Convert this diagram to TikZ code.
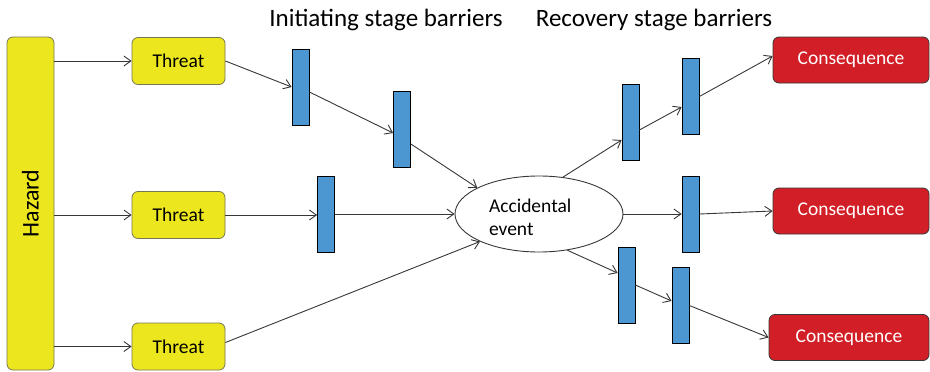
\documentclass[tikz,border=0pt]{standalone}
\usepackage{fontspec}
\setmainfont{Carlito}
\usetikzlibrary{arrows.meta,calc,shapes.geometric}
\definecolor{hyellow}{RGB}{236,230,30}
\definecolor{bblue}{RGB}{76,150,210}
\definecolor{cred}{RGB}{210,30,38}
\definecolor{lgray}{RGB}{55,55,55}
\definecolor{ybord}{RGB}{120,120,80}
\begin{document}
\begin{tikzpicture}[x=1pt,y=-1pt,
  txt/.style={font=\fontsize{19.5}{23}\selectfont},
  yelbox/.style={txt, draw=ybord, fill=hyellow, rounded corners=6pt, line width=0.8pt, inner sep=0pt},
  threatbox/.style={yelbox, minimum width=93pt, minimum height=47pt},
  hazbox/.style={yelbox, minimum width=47pt, minimum height=333pt, font=\fontsize{24}{28}\selectfont},
  barrier/.style={draw=black, fill=bblue, minimum width=17pt, minimum height=76pt, inner sep=0pt, line width=0.8pt},
  conbox/.style={txt, draw=lgray, fill=cred, text=white, rounded corners=6pt, line width=0.8pt, minimum width=156pt, minimum height=46pt, inner sep=0pt},
  evnode/.style={txt, ellipse, draw=lgray, line width=0.9pt, minimum width=168pt, minimum height=76pt, inner sep=0pt, text width=100pt, align=left},
  title/.style={font=\fontsize{25}{30}\selectfont, anchor=base},
  conn/.style={draw=lgray, line width=0.9pt, -{Straight Barb[length=7pt,width=10pt]}}
]
\useasboundingbox (0,0) rectangle (930,372);

\node[hazbox] (haz) at (30.5,203.5) {\rotatebox{90}{Hazard}};

\node[threatbox] (t1) at (178.5,61) {Threat};
\node[threatbox] (t2) at (178.5,215) {Threat};
\node[threatbox] (t3) at (178.5,346.5) {Threat};

\node[title] (tl1) at (386,27) {Initiating stage barriers};
\node[title] (tl2) at (654,27) {Recovery stage barriers};

\node[barrier] (b1) at (300.5,87) {};
\node[barrier] (b2) at (402,129) {};
\node[barrier] (b3) at (326,214) {};
\node[barrier] (b4) at (630.5,122) {};
\node[barrier] (b5) at (690.5,96.5) {};
\node[barrier] (b6) at (690.5,214) {};
\node[barrier] (b7) at (626.5,285) {};
\node[barrier] (b8) at (680.5,305.5) {};

\node[evnode] (ev) at (539,214) {\rule{0pt}{20pt}Accidental\\event};

\node[conbox] (c1) at (851,60) {Consequence};
\node[conbox] (c2) at (851,211) {Consequence};
\node[conbox, minimum width=160pt] (c3) at (849,337.5) {Consequence};

\draw[conn] (haz.east |- t1) -- (t1.west);
\draw[conn] (haz.east |- t2) -- (t2.west);
\draw[conn] (haz.east |- t3) -- (t3.west);

\draw[conn] (t1.east) -- (b1.west);
\draw[conn] ($(b1.east)+(0,5)$) -- ($(b2.west)+(0,4)$);
\draw[conn] ($(b2.east)+(0,15)$) -- (ev.157);

\draw[conn] (t2.east) -- (t2.east -| b3.west);
\draw[conn] (b3.east) -- (ev.west);

\draw[conn] ($(t3.east)+(0,-4)$) -- (ev.205);

\draw[conn] (ev.57) -- ($(b4.west)+(0,18)$);
\draw[conn] ($(b4.east)+(0,8)$) -- ($(b5.west)+(0,10.5)$);
\draw[conn] (b5.east) -- ($(c1.west)+(0,-4)$);

\draw[conn] (ev.east) -- (b6.west);
\draw[conn] (b6.east) -- (c2.west);

\draw[conn] (ev.308) -- ($(b7.west)+(0,-12)$);
\draw[conn] (b7.east) -- ($(b8.west)+(0,-4.5)$);
\draw[conn] (b8.east) -- (c3.west);
\end{tikzpicture}
\end{document}
